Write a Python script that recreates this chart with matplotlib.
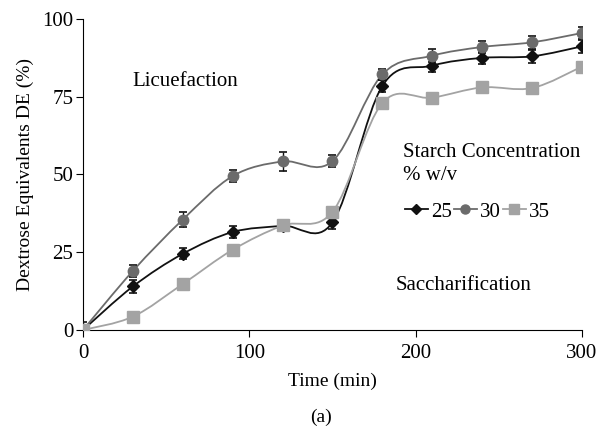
import numpy as np
import matplotlib.pyplot as plt
from matplotlib.path import Path
from matplotlib.patches import PathPatch
from matplotlib.lines import Line2D

plt.rcParams['font.family'] = ['Liberation Serif', 'DejaVu Serif']

# Данные: время (мин) и DE (%) для трёх концентраций крахмала
time_min = [0, 30, 60, 90, 120, 150, 180, 210, 240, 270, 300]
de_25 = [0, 14, 24.5, 31.5, 33.5, 34.6, 78.5, 85, 87.5, 88, 91.2]
de_30 = [0, 19, 35.5, 49.5, 54.2, 54.3, 82.2, 88.2, 91, 92.5, 95.5]
de_35 = [0, 4.3, 14.8, 25.8, 33.6, 38, 73, 74.7, 78, 77.8, 84.7]
err_25 = [1.5, 2, 1.8, 1.8, 1.5, 2, 2, 2, 2, 2, 2]
err_30 = [2.5, 1.8, 2.5, 1.8, 3, 2, 1.8, 2, 2, 2, 2]
labels = ['25', '30', '35']


def smooth_path(x, y, tension=1/6):
    """Сглаженная кривая (как в Excel) через кубические сегменты Безье."""
    x = np.asarray(x, float)
    y = np.asarray(y, float)
    verts = [(x[0], y[0])]
    codes = [Path.MOVETO]
    n = len(x)
    for i in range(n - 1):
        i0 = max(i - 1, 0)
        i3 = min(i + 2, n - 1)
        c1 = (x[i] + (x[i + 1] - x[i0]) * tension, y[i] + (y[i + 1] - y[i0]) * tension)
        c2 = (x[i + 1] - (x[i3] - x[i]) * tension, y[i + 1] - (y[i3] - y[i]) * tension)
        verts += [c1, c2, (x[i + 1], y[i + 1])]
        codes += [Path.CURVE4] * 3
    return Path(verts, codes)


fig = plt.figure(figsize=(5.98, 4.33), dpi=100)
ax = fig.add_axes([0.1388, 0.2379, 0.8344, 0.7182])

styles = [
    (de_25, err_25, '#111111', 'D', 6),
    (de_30, err_30, '#6b6b6b', 'o', 7.5),
    (de_35, None, '#a3a3a3', 's', 8),
]

handles = []
for (vals, err, color, marker, ms), lab in zip(styles, labels):
    ax.add_patch(PathPatch(smooth_path(time_min, vals), facecolor='none',
                           edgecolor=color, linewidth=1.3, zorder=2))
    if err is not None:
        ax.errorbar(time_min, vals, yerr=err, fmt='none', ecolor='#111111',
                    elinewidth=1, capsize=3, capthick=1.2, zorder=3)
    ax.plot(time_min, vals, linestyle='none', marker=marker, markersize=ms,
            color=color, zorder=4)
    handles.append(Line2D([], [], color=color, marker=marker,
                          markersize=ms - 1, linewidth=1.3, label=lab))

ax.set_xlim(0, 300)
ax.set_ylim(0, 100)
ax.set_xticks([0, 100, 200, 300])
ax.set_yticks([0, 25, 50, 75, 100])
ax.spines['top'].set_visible(False)
ax.spines['right'].set_visible(False)
ax.tick_params(direction='out', length=5, labelsize=15)
ax.tick_params(axis='x', pad=5)
ax.tick_params(axis='y', pad=2)
ax.set_xlabel('Time (min)', fontsize=14, labelpad=7)
ax.set_ylabel('Dextrose Equivalents DE (%)', fontsize=14, labelpad=6)

ax.text(29.5, 80, 'Licuefaction', fontsize=15, va='center')
ax.text(192.5, 57, 'Starch Concentration', fontsize=15, va='center')
ax.text(192.5, 49.8, '% w/v', fontsize=15, va='center')
ax.text(188, 14.2, 'Saccharification', fontsize=15, va='center')

ax.legend(handles=handles, loc='center left', bbox_to_anchor=(0.645, 0.38),
          ncol=3, frameon=False, fontsize=15, handlelength=1.1,
          handletextpad=0.15, columnspacing=0.1, borderaxespad=0,
          borderpad=0)

fig.text(0.537, 0.037, '(a)', fontsize=14, ha='center', va='center')

fig.savefig('out.png', dpi=100)
